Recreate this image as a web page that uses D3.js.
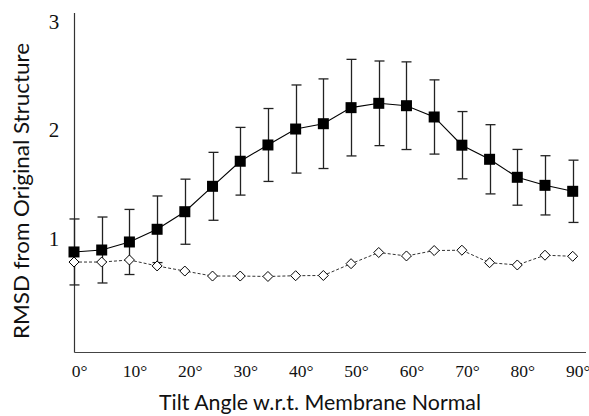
<!DOCTYPE html>
<html><head><meta charset="utf-8">
<script src="https://cdn.jsdelivr.net/npm/d3@7"></script>
<style>body{margin:0;background:#fff}svg{display:block}</style>
</head><body>
<svg id="c" width="589" height="416"></svg>
<script>
const angles = [0,5,10,15,20,25,30,35,40,45,50,55,60,65,70,75,80,85,90];
const rmsdMean = [0.876,0.894,0.968,1.085,1.247,1.481,1.712,1.862,2.009,2.058,2.206,2.246,2.224,2.120,1.860,1.730,1.564,1.490,1.435];
const rmsdErr  = [0.304,0.304,0.300,0.307,0.300,0.313,0.312,0.336,0.406,0.413,0.445,0.390,0.404,0.342,0.310,0.319,0.257,0.273,0.287];
const rmsdRef  = [0.783,0.783,0.802,0.747,0.700,0.654,0.654,0.650,0.657,0.659,0.768,0.871,0.839,0.889,0.892,0.777,0.756,0.846,0.836];
const xTicks = [0,10,20,30,40,50,60,70,80,90];
const yTicks = [1,2,3];
const xTitle = "Tilt Angle w.r.t. Membrane Normal";
const yTitle = "RMSD from Original Structure";

const svg = d3.select("#c");
const x = d3.scaleLinear().domain([0,90]).range([74,572.7]);
const y = d3.scaleLinear().domain([1,3]).range([238.5,21.5]);
const x0 = 74.5, yb = 352.5, ytop = 13;

// axes
svg.append("line").attr("x1",x0).attr("x2",x0).attr("y1",ytop).attr("y2",yb).attr("stroke","#333").attr("stroke-width",1.2);
svg.append("line").attr("x1",x0).attr("x2",586).attr("y1",yb).attr("y2",yb).attr("stroke","#444").attr("stroke-width",1.2);

svg.append("g").selectAll("text").data(yTicks).join("text")
  .attr("x",54).attr("y",d=>y(d)).attr("text-anchor","middle").attr("dominant-baseline","central")
  .attr("font-family","'Liberation Serif','Times New Roman',serif").attr("font-size",21).attr("fill","#111")
  .text(d=>d);
svg.append("g").selectAll("text").data(xTicks).join("text")
  .attr("x",d=>x(d)+5.5).attr("y",377).attr("text-anchor","middle")
  .attr("font-family","'Liberation Serif','Times New Roman',serif").attr("font-size",17.5).attr("fill","#111")
  .text(d=>d+"°");

svg.append("text").attr("x",320).attr("y",410).attr("text-anchor","middle")
  .attr("font-family","Lato,'Open Sans',sans-serif").attr("font-size",22).attr("fill","#111")
  .attr("textLength",322).attr("lengthAdjust","spacingAndGlyphs").text(xTitle);
svg.append("text").attr("transform","translate(29,191) rotate(-90)").attr("text-anchor","middle")
  .attr("font-family","Lato,'Open Sans',sans-serif").attr("font-size",22).attr("fill","#111")
  .attr("textLength",296).attr("lengthAdjust","spacingAndGlyphs").text(yTitle);

const pts = angles.map((a,i)=>({a, m:rmsdMean[i], e:rmsdErr[i], r:rmsdRef[i]}));

// dashed reference line
svg.append("path").datum(pts)
  .attr("d", d3.line().x(d=>x(d.a)).y(d=>y(d.r)))
  .attr("fill","none").attr("stroke","#333").attr("stroke-width",1).attr("stroke-dasharray","3,2");

// error bars
const eb = svg.append("g").attr("stroke","#222").attr("stroke-width",1.3);
pts.forEach(d=>{
  const cx = Math.round(x(d.a))+0.5;
  eb.append("line").attr("x1",cx).attr("x2",cx).attr("y1",y(d.m-d.e)).attr("y2",y(d.m+d.e));
  eb.append("line").attr("x1",cx-5).attr("x2",cx+5).attr("y1",y(d.m-d.e)).attr("y2",y(d.m-d.e));
  eb.append("line").attr("x1",cx-5).attr("x2",cx+5).attr("y1",y(d.m+d.e)).attr("y2",y(d.m+d.e));
});

// solid line
svg.append("path").datum(pts)
  .attr("d", d3.line().x(d=>x(d.a)).y(d=>y(d.m)))
  .attr("fill","none").attr("stroke","#000").attr("stroke-width",1.1);

// diamonds
svg.append("g").selectAll("path").data(pts).join("path")
  .attr("transform",d=>`translate(${x(d.a)},${y(d.r)})`)
  .attr("d","M0,-5L5,0L0,5L-5,0Z").attr("fill","#fff").attr("stroke","#000").attr("stroke-width",1);

// squares
svg.append("g").selectAll("rect").data(pts).join("rect")
  .attr("x",d=>x(d.a)-5.5).attr("y",d=>y(d.m)-5.5).attr("width",11).attr("height",11).attr("fill","#000");
</script>
</body></html>
